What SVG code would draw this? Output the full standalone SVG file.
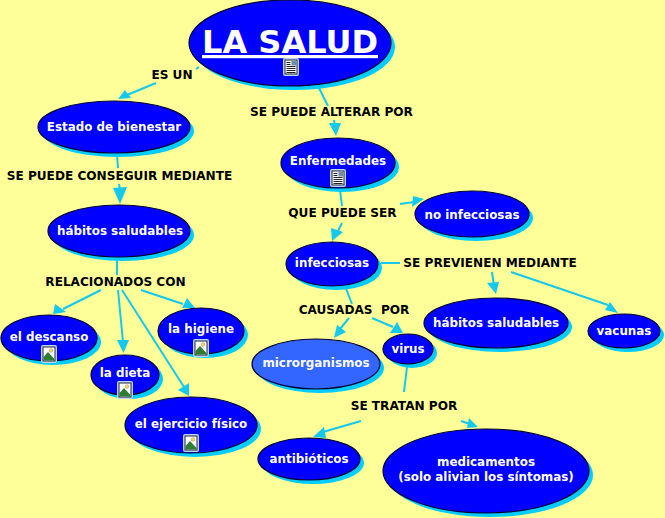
<svg xmlns="http://www.w3.org/2000/svg" width="665" height="518" viewBox="0 0 665 518">
<style>
text{font-family:"DejaVu Sans","Liberation Sans",sans-serif;font-weight:bold;text-anchor:middle}
.n{fill:#0000ff;stroke:#000033;stroke-width:1.2}
.s{fill:#00ccff}
.t{fill:#fff;font-size:11.9px}
.l{fill:#000;font-size:12.1px}
.c{fill:none;stroke:#14c8ee;stroke-width:2}
.a{fill:#14c8ee}
</style>
<defs>
<g id="pic"><rect x="-8" y="-9" width="16" height="18" rx="2" fill="#bcd6f5"/><rect x="-6" y="-7" width="12" height="14" fill="#fff" stroke="#223" stroke-width="1"/><path d="M-5.500 6.500V3L-1-2 5.500 5V6.500Z" fill="#2f7d32"/><circle cx="2" cy="-3.500" r="1.800" fill="#f2d95c" stroke="#987" stroke-width=".5"/></g>
<g id="doc"><rect x="-8" y="-9" width="16" height="18" rx="2" fill="#bcd6f5"/><rect x="-6" y="-7" width="12" height="14" fill="#fff" stroke="#223" stroke-width="1"/><path d="M-4.500-4.500H-.5M-4.500-2.500H-.5M-4.500-.5H4.500M-4.500 1.500H4.500M-4.500 3.500H4.500M-4.500 5.500H4.500" stroke="#222" stroke-width="1"/><rect x="0.500" y="-6" width="4.500" height="4.500" fill="#6a8fa8"/></g>
</defs>
<rect width="665" height="518" fill="#ffff99"/>
<g id="connectors">
<path class="c" d="M196 69L199 67M156 83L127 95M319 88L328 106M334 120L335 126M117 154L118 168M119 184L120 190M117 258V275M118 290L123 342M101 290L63 309M141 290L183 304M122 290L184 387M340 190L342 206M342 223L338 231M400 204L414 202M381 263H400M345 286L352 304M349 318L340 329M372 318L393 327M407 367L404 392M361 421L323 432M461 421L470 424M492 272L494 286M511 272L608 305"/>
<path class="a" d="M118 99L125 90 131 98ZM336 136L329 123 341 123ZM120 204L113 188 127 187ZM123.500 353L117 340 129 340ZM53 314L55 304 66 312ZM195 308L187 298 182 308ZM189 396L178 390 189 383ZM332 241L331 228 343 232ZM424 199L413 196 412 207ZM334 338L337 325 346 332ZM403 333L397 322 390 333ZM313 437L324 427 326 438ZM478 427L469 418 467 428ZM496 294L487 283 499 282ZM618 313L610 302 605 310Z"/>
</g>
<g id="n1"><ellipse class="s" cx="294" cy="47" rx="101" ry="43"/><ellipse class="n" cx="290" cy="43" rx="101" ry="43"/><text x="290" y="53" font-size="32" fill="#fff" text-decoration="underline">LA SALUD</text><use href="#doc" x="291" y="67"/></g>
<g id="n2"><ellipse class="s" cx="118" cy="131" rx="76" ry="26"/><ellipse class="n" cx="114" cy="127" rx="76" ry="26"/><text class="t" x="114" y="131">Estado de bienestar</text></g>
<g id="n3"><ellipse class="s" cx="123" cy="235" rx="71" ry="26"/><ellipse class="n" cx="119" cy="231" rx="71" ry="26"/><text class="t" x="120" y="235">hábitos saludables</text></g>
<g id="n4"><ellipse class="s" cx="53" cy="342" rx="48" ry="23"/><ellipse class="n" cx="49" cy="338" rx="48" ry="23"/><text class="t" x="49" y="341">el descanso</text><use href="#pic" x="49" y="354"/></g>
<g id="n5"><ellipse class="s" cx="129" cy="379" rx="34" ry="20"/><ellipse class="n" cx="125" cy="375" rx="34" ry="20"/><text class="t" x="125" y="377">la dieta</text><use href="#pic" x="125" y="390"/></g>
<g id="n6"><ellipse class="s" cx="205" cy="335" rx="43" ry="23"/><ellipse class="n" cx="201" cy="331" rx="43" ry="23"/><text class="t" x="201" y="333">la higiene</text><use href="#pic" x="201" y="348"/></g>
<g id="n7"><ellipse class="s" cx="195" cy="429" rx="66" ry="28"/><ellipse class="n" cx="191" cy="425" rx="66" ry="28"/><text class="t" x="191" y="428">el ejercicio físico</text><use href="#pic" x="191" y="443"/></g>
<g id="n8"><ellipse class="s" cx="342" cy="167" rx="57" ry="25"/><ellipse class="n" cx="338" cy="163" rx="57" ry="25"/><text class="t" x="338" y="165">Enfermedades</text><use href="#doc" x="338" y="178"/></g>
<g id="n9"><ellipse class="s" cx="476" cy="218" rx="57" ry="23"/><ellipse class="n" cx="472" cy="214" rx="57" ry="23"/><text class="t" x="472" y="219">no infecciosas</text></g>
<g id="n10"><ellipse class="s" cx="336" cy="268" rx="46" ry="22"/><ellipse class="n" cx="332" cy="264" rx="46" ry="22"/><text class="t" x="332" y="267">infecciosas</text></g>
<g id="n11"><ellipse class="s" cx="500" cy="327" rx="72" ry="25"/><ellipse class="n" cx="496" cy="323" rx="72" ry="25"/><text class="t" x="496" y="327">hábitos saludables</text></g>
<g id="n12"><ellipse class="s" cx="628" cy="335" rx="36" ry="17"/><ellipse class="n" cx="624" cy="331" rx="36" ry="17"/><text class="t" x="624" y="335">vacunas</text></g>
<g id="n13"><ellipse class="s" cx="320" cy="368" rx="64" ry="25"/><ellipse class="n" cx="316" cy="364" rx="64" ry="25" style="fill:#3366ff"/><text class="t" x="316" y="367">microrganismos</text></g>
<g id="n14"><ellipse class="s" cx="412" cy="353" rx="25" ry="15"/><ellipse class="n" cx="408" cy="349" rx="25" ry="15"/><text class="t" x="408" y="353">virus</text></g>
<g id="n15"><ellipse class="s" cx="313" cy="463" rx="51" ry="21"/><ellipse class="n" cx="309" cy="459" rx="51" ry="21"/><text class="t" x="309" y="463">antibióticos</text></g>
<g id="n16"><ellipse class="s" cx="490" cy="475" rx="103" ry="42"/><ellipse class="n" cx="486" cy="471" rx="103" ry="42"/><text class="t" x="486" y="466">medicamentos</text><text class="t" x="486" y="481">(solo alivian los síntomas)</text></g>
<g id="labels">
<text class="l" x="172" y="79">ES UN</text>
<text class="l" x="331.500" y="116">SE PUEDE ALTERAR POR</text>
<text class="l" x="119.500" y="180">SE PUEDE CONSEGUIR MEDIANTE</text>
<text class="l" x="115.500" y="286">RELACIONADOS CON</text>
<text class="l" x="342.500" y="217">QUE PUEDE SER</text>
<text class="l" x="490" y="267">SE PREVIENEN MEDIANTE</text>
<text class="l" x="354" y="314" xml:space="preserve">CAUSADAS  POR</text>
<text class="l" x="404" y="410">SE TRATAN POR</text>
</g>
</svg>
